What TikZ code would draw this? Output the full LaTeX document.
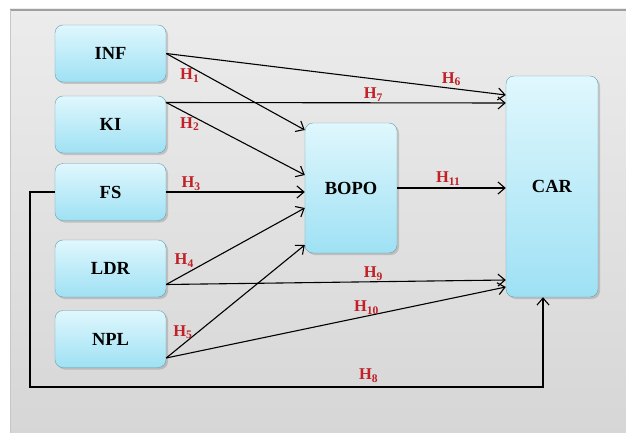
\documentclass[tikz,border=0pt]{standalone}
\usepackage{fontspec}
\setmainfont{Liberation Serif}
\usetikzlibrary{arrows.meta,shadows}

\definecolor{boxline}{RGB}{105,160,172}
\definecolor{boxtop}{RGB}{224,247,253}
\definecolor{boxbottom}{RGB}{158,225,244}
\definecolor{hypred}{RGB}{192,32,38}

\begin{document}
\begin{tikzpicture}[
  x = 1pt, y = -1pt,
  construct/.style = {
    shape = rectangle,
    draw = boxline,
    rounded corners = 8pt,
    top color = boxtop,
    bottom color = boxbottom,
    drop shadow = {shadow xshift = 2pt, shadow yshift = -2pt, opacity = 0.35},
    font = \fontsize{18.5}{21}\selectfont\bfseries,
    inner sep = 0pt,
  },
  source/.style = {
    construct,
    minimum width = 111pt,
    minimum height = 57pt,
  },
  hyp/.style = {
    text = hypred,
    font = \fontsize{16.5}{19}\selectfont\bfseries,
    inner sep = 1pt,
  }
]
  \useasboundingbox (0, 0) rectangle (626, 433);
  \fill[white] (0, 0) rectangle (626, 433);
  \shade[top color = gray!15, bottom color = gray!32] (10, 9) rectangle (626, 433);
  \draw[gray!75, line width = 2pt] (10, 10) -- (626, 10);
  \draw[gray!45] (10, 10) -- (10, 433);

  \node[source] (inf) at (110.5, 53.5) {INF};
  \node[source] (ki) at (110.5, 124.5) {KI};
  \node[source] (fs) at (110.5, 192) {FS};
  \node[source] (ldr) at (110.5, 268.5) {LDR};
  \node[source] (npl) at (110.5, 339) {NPL};
  \node[construct, minimum width = 92pt, minimum height = 130pt] (bopo) at (351, 188) {BOPO};
  \node[construct, minimum width = 92pt, minimum height = 221pt] (car) at (552, 186.5) {CAR};

  \coordinate (loop) at (30, 387);

  \begin{scope}[
    every path/.style = {-{Straight Barb[length = 7pt, width = 12pt]}, line width = 1.1pt},
    every node/.style = {hyp}
  ]
    \draw (inf.east) -- ([yshift = 58pt]bopo.west) node[pos = 0.17, below = 1pt] (h1) {H\textsubscript{1}};
    \draw (inf.east) -- ([yshift = 91.5pt]car.west) node[pos = 0.84, above = 1pt] (h6) {H\textsubscript{6}};

    \draw ([yshift = 22pt]ki.east) -- ([yshift = 13pt]bopo.west) node[pos = 0.17, below = 1pt] (h2) {H\textsubscript{2}};
    \draw ([yshift = 22pt]ki.east) -- ([yshift = 83.5pt]car.west) node[pos = 0.61, above = 0pt] (h7) {H\textsubscript{7}};

    \draw (fs.east) -- (fs.east -| bopo.west) node[pos = 0.18, above = 0pt] (h3) {H\textsubscript{3}};
    \draw (fs.west) -| (loop) -| ([xshift = -9pt]car.south) node[pos = 0.33, above = 3pt] (h8) {H\textsubscript{8}};

    \draw ([yshift = -16pt]ldr.east) -- ([yshift = -20pt]bopo.west) node[pos = 0.13, above = 6pt] (h4) {H\textsubscript{4}};
    \draw ([yshift = -16pt]ldr.east) -- ([yshift = -93.5pt]car.west) node[pos = 0.61, above = 0pt] (h9) {H\textsubscript{9}};

    \draw ([yshift = -19pt]npl.east) -- ([yshift = -57pt]bopo.west) node[pos = 0.12, above = 4pt] (h5) {H\textsubscript{5}};
    \draw ([yshift = -19pt]npl.east) -- ([yshift = -100.5pt]car.west) node[pos = 0.59, above = 0pt] (h10) {H\textsubscript{10}};

    \draw (bopo.east) -- (bopo.east -| car.west) node[pos = 0.47, above = 1pt] (h11) {H\textsubscript{11}};
  \end{scope}
\end{tikzpicture}
\end{document}
